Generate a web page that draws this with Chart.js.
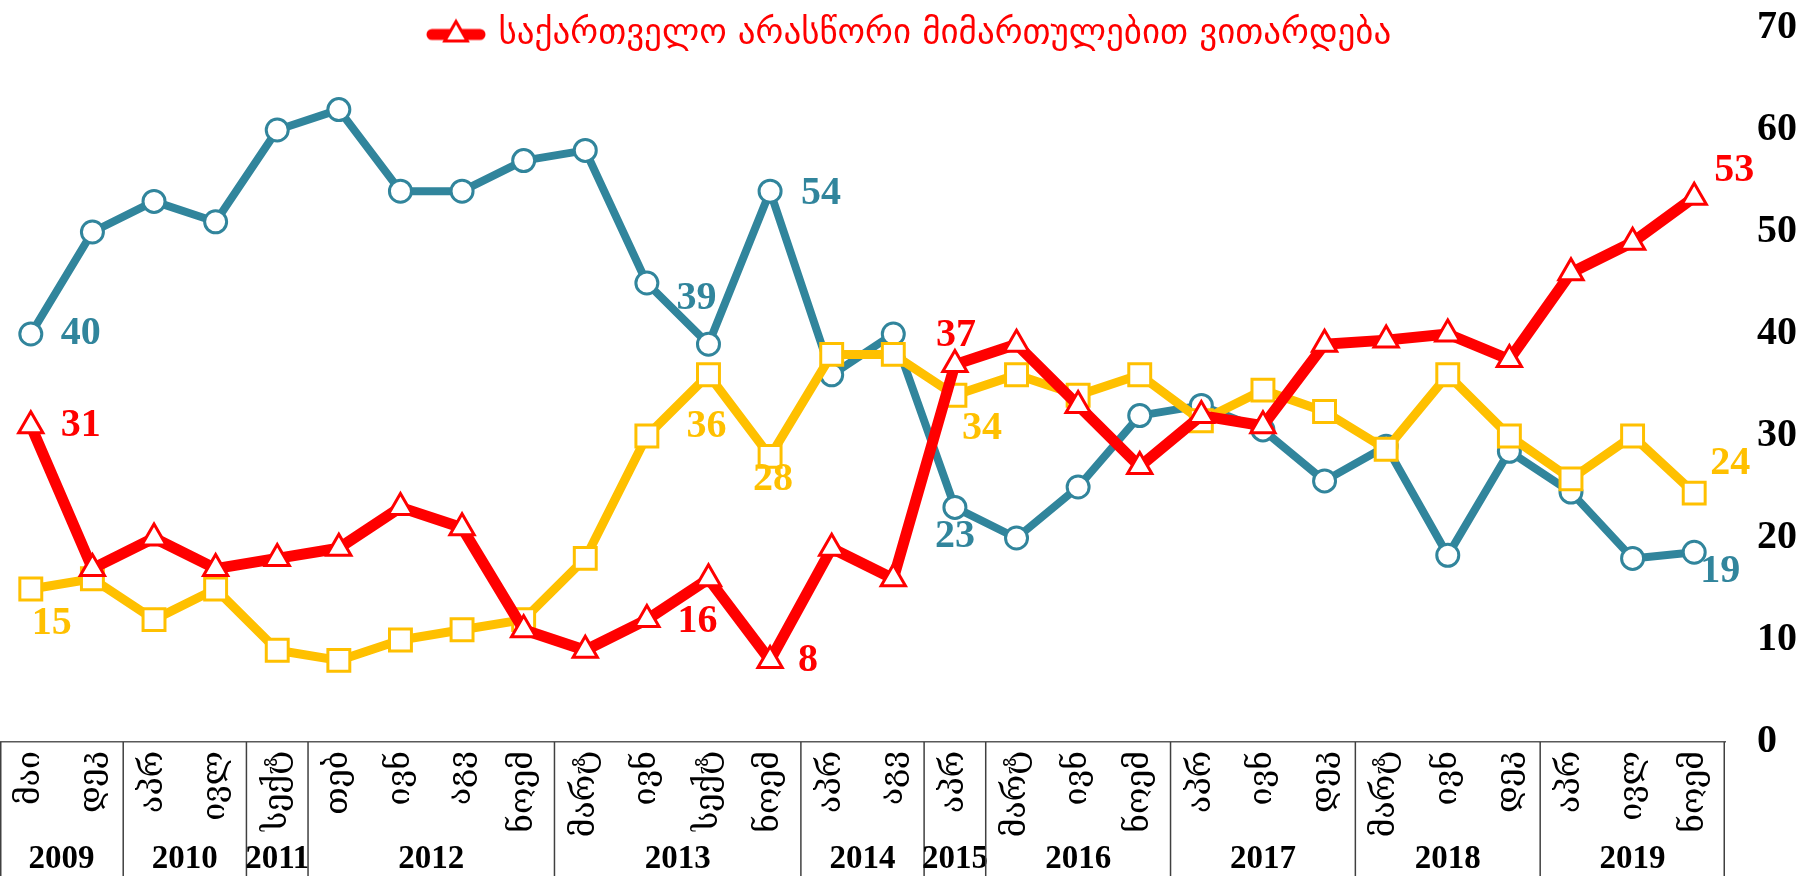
<!DOCTYPE html>
<html>
<head>
<meta charset="utf-8">
<script src="https://cdn.jsdelivr.net/npm/chart.js@4.4.1/dist/chart.umd.min.js"></script>
<style>
html,body{margin:0;padding:0;background:#fff;overflow:hidden}
canvas{display:block}
</style>
</head>
<body>
<canvas id="c" width="1808" height="876"></canvas>
<script>
// ---------- data ----------
const months = ['მაი','დეკ','აპრ','ივლ','სექტ','თებ','ივნ','აგვ','ნოემ','მარტ','ივნ','სექტ','ნოემ','აპრ','აგვ','აპრ','მარტ','ივნ','ნოემ','აპრ','ივნ','დეკ','მარტ','ივნ','დეკ','აპრ','ივლ','ნოემ'];
const years = ['2009','2010','2011','2012','2013','2014','2015','2016','2017','2018','2019'];
const monthsPerYear = [2,2,1,4,4,2,1,3,3,3,3];
const legendText = 'საქართველო არასწორი მიმართულებით ვითარდება';

const wrongDirection = [31,17,20,17,18,19,23,21,11,9, 12,16,8,19,16,37,39,33,27,32, 31,39,39.4,40,37.5,46,49,53.4];
const seriesYellow  = [15,16,12,15,9,8,10,11,12,18, 30,36,28,38,38,34,36,34,36,31.5, 34.5,32.4,28.7,36,30,25.8,30,24.4];
const seriesBlue    = [40,50,53,51,60,62,54,54,57,58, 45,39,54,36,40,23,20,25,32,33, 30.6,25.6,29,18.3,28.5,24.5,18,18.6];
const labelledPoints = [0,11,12,15,27];
const yMin = 0, yMax = 70, yStep = 10;

// ---------- styles ----------
const RED = '#FF0000', YELLOW = '#FFC000', BLUE = '#31859C';
const labelOffsets = {
  red:    {0:[50,0], 11:[-11,43], 12:[38,0], 15:[1,-29], 27:[40,-27]},
  yellow: {0:[21,35], 11:[-2,52], 12:[3,23], 15:[27,33], 27:[36,-29]},
  blue:   {0:[50,0], 11:[-12,-46], 12:[51,2], 15:[0,29], 27:[26,19]}
};
const numFont = 'bold 40px "Liberation Serif"';

function legendMarker() {
  const c = document.createElement('canvas');
  c.width = 60; c.height = 34;
  const g = c.getContext('2d');
  g.strokeStyle = RED; g.lineWidth = 11; g.lineCap = 'round';
  g.beginPath(); g.moveTo(6, 18); g.lineTo(54, 18); g.stroke();
  const r = 13, cx = 30, cy = 18;
  g.beginPath();
  g.moveTo(cx, cy - r);
  g.lineTo(cx + 0.866 * r, cy + 0.5 * r);
  g.lineTo(cx - 0.866 * r, cy + 0.5 * r);
  g.closePath();
  g.fillStyle = '#fff'; g.fill();
  g.lineWidth = 3; g.lineJoin = 'miter'; g.stroke();
  return c;
}
const marker = legendMarker();

const valueLabels = {
  id: 'valueLabels',
  afterDatasetsDraw(chart) {
    const ctx = chart.ctx;
    ctx.save();
    ctx.font = numFont;
    ctx.textAlign = 'center';
    ctx.textBaseline = 'middle';
    chart.data.datasets.forEach((ds, i) => {
      const meta = chart.getDatasetMeta(i);
      const offs = labelOffsets[ds.key];
      ctx.fillStyle = ds.borderColor;
      labelledPoints.forEach(j => {
        const p = meta.data[j];
        const o = offs[j] || [0, -30];
        ctx.fillText(String(Math.round(ds.data[j])), p.x + o[0], p.y + o[1]);
      });
    });
    ctx.restore();
  }
};

const yearTable = {
  id: 'yearTable',
  afterDraw(chart) {
    const ctx = chart.ctx;
    const x = chart.scales.x;
    const top = chart.chartArea.bottom;
    const bottom = chart.height;
    const half = (x.getPixelForValue(1) - x.getPixelForValue(0)) / 2;
    ctx.save();
    ctx.strokeStyle = '#404040';
    ctx.lineWidth = 1.5;
    ctx.font = 'bold 33px "Liberation Serif"';
    ctx.fillStyle = '#000';
    ctx.textAlign = 'center';
    ctx.textBaseline = 'middle';
    let idx = 0;
    const line = (px) => { ctx.beginPath(); ctx.moveTo(px, top); ctx.lineTo(px, bottom); ctx.stroke(); };
    line(Math.max(x.getPixelForValue(0) - half, 0.75));
    years.forEach((y, k) => {
      const n = monthsPerYear[k];
      const l = x.getPixelForValue(idx) - half;
      const r = x.getPixelForValue(idx + n - 1) + half;
      ctx.fillText(y, (l + r) / 2, 859);
      line(k === years.length - 1 ? r - 0.75 : r);
      idx += n;
    });
    ctx.restore();
  }
};

const legendPlace = {
  id: 'legendPlace',
  afterLayout(chart) {
    const lg = chart.legend;
    if (!lg) return;
    const w = lg.width, h = lg.height;
    lg.left = 421; lg.right = lg.left + w;
    lg.top = 6; lg.bottom = lg.top + h;
  }
};

new Chart(document.getElementById('c'), {
  type: 'line',
  data: {
    labels: months,
    datasets: [
      { key: 'red', label: legendText, data: wrongDirection, borderColor: RED, borderWidth: 11,
        pointStyle: 'triangle', pointRadius: 14, pointBorderWidth: 3, pointBackgroundColor: '#fff', pointBorderColor: RED },
      { key: 'yellow', label: '', data: seriesYellow, borderColor: YELLOW, borderWidth: 9,
        pointStyle: 'rect', pointRadius: 15.5, pointBorderWidth: 3, pointBackgroundColor: '#fff', pointBorderColor: YELLOW },
      { key: 'blue', label: '', data: seriesBlue, borderColor: BLUE, borderWidth: 8,
        pointStyle: 'circle', pointRadius: 11, pointBorderWidth: 3, pointBackgroundColor: '#fff', pointBorderColor: BLUE }
    ]
  },
  options: {
    responsive: false,
    animation: false,
    devicePixelRatio: 1,
    layout: { autoPadding: false, padding: { top: 28, left: 0, right: 0, bottom: 0 } },
    elements: { line: { tension: 0, borderJoinStyle: 'round', borderCapStyle: 'round' } },
    plugins: {
      tooltip: { enabled: false },
      legend: {
        position: 'chartArea',
        align: 'start',
        labels: {
          usePointStyle: true,
          pointStyleWidth: 50,
          padding: 10,
          color: RED,
          font: { family: '"DejaVu Sans"', size: 35 },
          generateLabels: (chart) => [{
            text: legendText, fillStyle: '#fff', strokeStyle: RED, lineWidth: 3,
            pointStyle: marker, fontColor: RED, datasetIndex: 0, hidden: false
          }]
        }
      }
    },
    scales: {
      x: {
        position: 'bottom',
        offset: true,
        grid: { display: false, drawTicks: false },
        border: { display: true, color: '#595959', width: 1.5 },
        ticks: {
          autoSkip: false, minRotation: 90, maxRotation: 90, padding: 9,
          color: '#000', font: { family: '"DejaVu Serif"', size: 32 }
        },
        afterFit: (s) => { s.height = 134; s.paddingLeft = 0; s.paddingRight = 0; }
      },
      y: {
        position: 'right',
        min: yMin, max: yMax,
        grid: { display: false, drawTicks: false },
        border: { display: false },
        ticks: {
          stepSize: yStep, padding: 32, color: '#000',
          font: { family: '"Liberation Serif"', size: 40, weight: 'bold' }
        },
        afterFit: (s) => { s.width = 83; s.paddingTop = 0; s.paddingBottom = 0; }
      }
    }
  },
  plugins: [valueLabels, yearTable, legendPlace]
});
</script>
</body>
</html>
